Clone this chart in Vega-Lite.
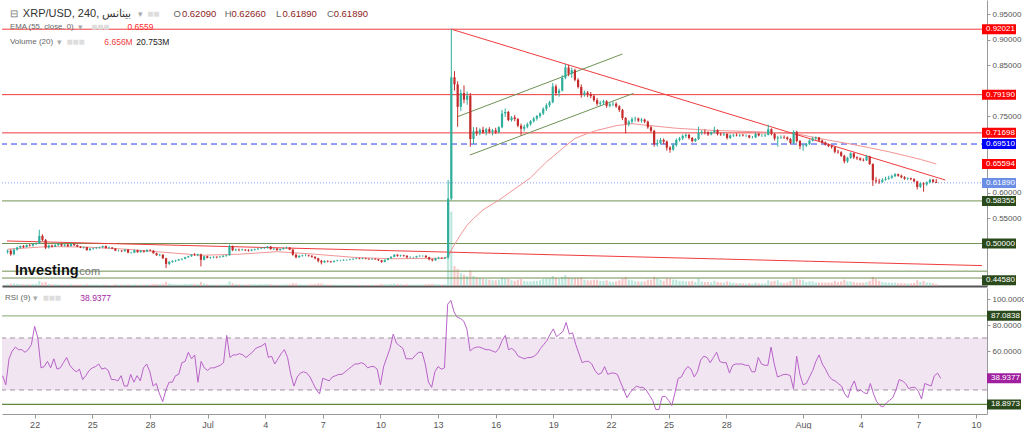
{
"$schema":"https://vega.github.io/schema/vega-lite/v6.json",
"padding":0,
"background":"#ffffff",
"spacing":2,
"config":{"view":{"stroke":null},"font":"Liberation Sans","axis":{"grid":false,"title":null}},
"datasets":{
"c":[
{"t":"2023-06-20T08:00Z","o":0.484,"h":0.488,"l":0.480,"c":0.486,"v":6,"r":41},
{"t":"2023-06-20T12:00Z","o":0.486,"h":0.489,"l":0.476,"c":0.479,"v":8,"r":34},
{"t":"2023-06-20T16:00Z","o":0.479,"h":0.490,"l":0.477,"c":0.488,"v":9,"r":54},
{"t":"2023-06-20T20:00Z","o":0.488,"h":0.494,"l":0.486,"c":0.492,"v":8,"r":60},
{"t":"2023-06-21T00:00Z","o":0.492,"h":0.496,"l":0.490,"c":0.495,"v":7,"r":63},
{"t":"2023-06-21T04:00Z","o":0.495,"h":0.497,"l":0.491,"c":0.493,"v":6,"r":61},
{"t":"2023-06-21T08:00Z","o":0.493,"h":0.498,"l":0.492,"c":0.497,"v":7,"r":61},
{"t":"2023-06-21T12:00Z","o":0.497,"h":0.499,"l":0.494,"c":0.496,"v":6,"r":59},
{"t":"2023-06-21T16:00Z","o":0.496,"h":0.500,"l":0.494,"c":0.499,"v":7,"r":61},
{"t":"2023-06-21T20:00Z","o":0.499,"h":0.502,"l":0.497,"c":0.500,"v":8,"r":65},
{"t":"2023-06-22T00:00Z","o":0.500,"h":0.527,"l":0.499,"c":0.515,"v":18,"r":79},
{"t":"2023-06-22T04:00Z","o":0.515,"h":0.518,"l":0.505,"c":0.507,"v":12,"r":70},
{"t":"2023-06-22T08:00Z","o":0.507,"h":0.509,"l":0.489,"c":0.492,"v":14,"r":47},
{"t":"2023-06-22T12:00Z","o":0.492,"h":0.498,"l":0.490,"c":0.496,"v":8,"r":48},
{"t":"2023-06-22T16:00Z","o":0.496,"h":0.498,"l":0.492,"c":0.494,"v":6,"r":52},
{"t":"2023-06-22T20:00Z","o":0.494,"h":0.499,"l":0.493,"c":0.497,"v":6,"r":47},
{"t":"2023-06-23T00:00Z","o":0.497,"h":0.500,"l":0.495,"c":0.499,"v":6,"r":54},
{"t":"2023-06-23T04:00Z","o":0.499,"h":0.500,"l":0.494,"c":0.496,"v":5,"r":46},
{"t":"2023-06-23T08:00Z","o":0.496,"h":0.499,"l":0.494,"c":0.498,"v":5,"r":47},
{"t":"2023-06-23T12:00Z","o":0.498,"h":0.499,"l":0.493,"c":0.495,"v":5,"r":51},
{"t":"2023-06-23T16:00Z","o":0.495,"h":0.502,"l":0.494,"c":0.499,"v":6,"r":55},
{"t":"2023-06-23T20:00Z","o":0.499,"h":0.500,"l":0.495,"c":0.497,"v":5,"r":49},
{"t":"2023-06-24T00:00Z","o":0.497,"h":0.498,"l":0.493,"c":0.494,"v":5,"r":46},
{"t":"2023-06-24T04:00Z","o":0.494,"h":0.495,"l":0.491,"c":0.492,"v":5,"r":44},
{"t":"2023-06-24T08:00Z","o":0.492,"h":0.494,"l":0.490,"c":0.493,"v":5,"r":46},
{"t":"2023-06-24T12:00Z","o":0.493,"h":0.493,"l":0.486,"c":0.487,"v":6,"r":38},
{"t":"2023-06-24T16:00Z","o":0.487,"h":0.491,"l":0.486,"c":0.490,"v":5,"r":41},
{"t":"2023-06-24T20:00Z","o":0.490,"h":0.492,"l":0.488,"c":0.491,"v":5,"r":45},
{"t":"2023-06-25T00:00Z","o":0.491,"h":0.493,"l":0.489,"c":0.492,"v":5,"r":47},
{"t":"2023-06-25T04:00Z","o":0.492,"h":0.494,"l":0.490,"c":0.493,"v":4,"r":48},
{"t":"2023-06-25T08:00Z","o":0.493,"h":0.496,"l":0.491,"c":0.495,"v":5,"r":50},
{"t":"2023-06-25T12:00Z","o":0.495,"h":0.496,"l":0.490,"c":0.491,"v":5,"r":46},
{"t":"2023-06-25T16:00Z","o":0.491,"h":0.494,"l":0.490,"c":0.492,"v":4,"r":47},
{"t":"2023-06-25T20:00Z","o":0.492,"h":0.493,"l":0.489,"c":0.490,"v":4,"r":45},
{"t":"2023-06-26T00:00Z","o":0.490,"h":0.491,"l":0.485,"c":0.486,"v":6,"r":38},
{"t":"2023-06-26T04:00Z","o":0.486,"h":0.488,"l":0.484,"c":0.486,"v":5,"r":38},
{"t":"2023-06-26T08:00Z","o":0.486,"h":0.487,"l":0.483,"c":0.485,"v":5,"r":37},
{"t":"2023-06-26T12:00Z","o":0.485,"h":0.489,"l":0.484,"c":0.488,"v":5,"r":41},
{"t":"2023-06-26T16:00Z","o":0.488,"h":0.489,"l":0.481,"c":0.482,"v":6,"r":33},
{"t":"2023-06-26T20:00Z","o":0.482,"h":0.484,"l":0.480,"c":0.482,"v":5,"r":33},
{"t":"2023-06-27T00:00Z","o":0.482,"h":0.488,"l":0.481,"c":0.487,"v":6,"r":42},
{"t":"2023-06-27T04:00Z","o":0.487,"h":0.488,"l":0.482,"c":0.483,"v":5,"r":36},
{"t":"2023-06-27T08:00Z","o":0.483,"h":0.487,"l":0.482,"c":0.486,"v":5,"r":41},
{"t":"2023-06-27T12:00Z","o":0.486,"h":0.487,"l":0.482,"c":0.484,"v":5,"r":37},
{"t":"2023-06-27T16:00Z","o":0.484,"h":0.489,"l":0.483,"c":0.487,"v":6,"r":47},
{"t":"2023-06-27T20:00Z","o":0.487,"h":0.489,"l":0.485,"c":0.486,"v":5,"r":50},
{"t":"2023-06-28T00:00Z","o":0.486,"h":0.487,"l":0.480,"c":0.481,"v":7,"r":44},
{"t":"2023-06-28T04:00Z","o":0.481,"h":0.482,"l":0.476,"c":0.477,"v":7,"r":33},
{"t":"2023-06-28T08:00Z","o":0.477,"h":0.480,"l":0.475,"c":0.478,"v":6,"r":35},
{"t":"2023-06-28T12:00Z","o":0.478,"h":0.479,"l":0.470,"c":0.471,"v":8,"r":27},
{"t":"2023-06-28T16:00Z","o":0.471,"h":0.472,"l":0.452,"c":0.460,"v":15,"r":21},
{"t":"2023-06-28T20:00Z","o":0.460,"h":0.466,"l":0.458,"c":0.464,"v":9,"r":30},
{"t":"2023-06-29T00:00Z","o":0.464,"h":0.467,"l":0.462,"c":0.466,"v":7,"r":36},
{"t":"2023-06-29T04:00Z","o":0.466,"h":0.468,"l":0.464,"c":0.467,"v":6,"r":36},
{"t":"2023-06-29T08:00Z","o":0.467,"h":0.470,"l":0.466,"c":0.469,"v":6,"r":41},
{"t":"2023-06-29T12:00Z","o":0.469,"h":0.471,"l":0.467,"c":0.470,"v":6,"r":42},
{"t":"2023-06-29T16:00Z","o":0.470,"h":0.474,"l":0.469,"c":0.473,"v":7,"r":51},
{"t":"2023-06-29T20:00Z","o":0.473,"h":0.476,"l":0.472,"c":0.475,"v":7,"r":52},
{"t":"2023-06-30T00:00Z","o":0.475,"h":0.479,"l":0.474,"c":0.478,"v":8,"r":59},
{"t":"2023-06-30T04:00Z","o":0.478,"h":0.481,"l":0.476,"c":0.477,"v":8,"r":54},
{"t":"2023-06-30T08:00Z","o":0.477,"h":0.480,"l":0.475,"c":0.479,"v":7,"r":57},
{"t":"2023-06-30T12:00Z","o":0.479,"h":0.480,"l":0.455,"c":0.468,"v":14,"r":36},
{"t":"2023-06-30T16:00Z","o":0.468,"h":0.476,"l":0.467,"c":0.475,"v":9,"r":52},
{"t":"2023-06-30T20:00Z","o":0.475,"h":0.476,"l":0.471,"c":0.472,"v":6,"r":47},
{"t":"2023-07-01T00:00Z","o":0.472,"h":0.474,"l":0.470,"c":0.473,"v":5,"r":45},
{"t":"2023-07-01T04:00Z","o":0.473,"h":0.475,"l":0.471,"c":0.474,"v":5,"r":47},
{"t":"2023-07-01T08:00Z","o":0.474,"h":0.475,"l":0.471,"c":0.473,"v":5,"r":47},
{"t":"2023-07-01T12:00Z","o":0.473,"h":0.476,"l":0.472,"c":0.474,"v":5,"r":48},
{"t":"2023-07-01T16:00Z","o":0.474,"h":0.477,"l":0.473,"c":0.476,"v":5,"r":49},
{"t":"2023-07-01T20:00Z","o":0.476,"h":0.478,"l":0.474,"c":0.477,"v":6,"r":51},
{"t":"2023-07-02T00:00Z","o":0.477,"h":0.498,"l":0.476,"c":0.495,"v":16,"r":72},
{"t":"2023-07-02T04:00Z","o":0.495,"h":0.496,"l":0.485,"c":0.487,"v":10,"r":55},
{"t":"2023-07-02T08:00Z","o":0.487,"h":0.490,"l":0.485,"c":0.488,"v":7,"r":57},
{"t":"2023-07-02T12:00Z","o":0.488,"h":0.490,"l":0.485,"c":0.487,"v":6,"r":57},
{"t":"2023-07-02T16:00Z","o":0.487,"h":0.490,"l":0.486,"c":0.488,"v":6,"r":58},
{"t":"2023-07-02T20:00Z","o":0.488,"h":0.489,"l":0.485,"c":0.487,"v":5,"r":57},
{"t":"2023-07-03T00:00Z","o":0.487,"h":0.489,"l":0.484,"c":0.486,"v":6,"r":55},
{"t":"2023-07-03T04:00Z","o":0.486,"h":0.489,"l":0.485,"c":0.488,"v":6,"r":57},
{"t":"2023-07-03T08:00Z","o":0.488,"h":0.490,"l":0.486,"c":0.489,"v":6,"r":59},
{"t":"2023-07-03T12:00Z","o":0.489,"h":0.491,"l":0.487,"c":0.490,"v":6,"r":62},
{"t":"2023-07-03T16:00Z","o":0.490,"h":0.493,"l":0.489,"c":0.491,"v":7,"r":63},
{"t":"2023-07-03T20:00Z","o":0.491,"h":0.493,"l":0.489,"c":0.492,"v":6,"r":64},
{"t":"2023-07-04T00:00Z","o":0.492,"h":0.495,"l":0.490,"c":0.494,"v":7,"r":66},
{"t":"2023-07-04T04:00Z","o":0.494,"h":0.495,"l":0.488,"c":0.489,"v":6,"r":55},
{"t":"2023-07-04T08:00Z","o":0.489,"h":0.491,"l":0.487,"c":0.490,"v":5,"r":56},
{"t":"2023-07-04T12:00Z","o":0.490,"h":0.491,"l":0.486,"c":0.487,"v":5,"r":50},
{"t":"2023-07-04T16:00Z","o":0.487,"h":0.490,"l":0.486,"c":0.489,"v":5,"r":54},
{"t":"2023-07-04T20:00Z","o":0.489,"h":0.492,"l":0.488,"c":0.491,"v":5,"r":58},
{"t":"2023-07-05T00:00Z","o":0.491,"h":0.494,"l":0.490,"c":0.492,"v":6,"r":61},
{"t":"2023-07-05T04:00Z","o":0.492,"h":0.493,"l":0.487,"c":0.488,"v":6,"r":55},
{"t":"2023-07-05T08:00Z","o":0.488,"h":0.489,"l":0.476,"c":0.478,"v":10,"r":42},
{"t":"2023-07-05T12:00Z","o":0.478,"h":0.480,"l":0.471,"c":0.473,"v":9,"r":33},
{"t":"2023-07-05T16:00Z","o":0.473,"h":0.477,"l":0.472,"c":0.476,"v":6,"r":40},
{"t":"2023-07-05T20:00Z","o":0.476,"h":0.478,"l":0.474,"c":0.477,"v":5,"r":43},
{"t":"2023-07-06T00:00Z","o":0.477,"h":0.479,"l":0.475,"c":0.477,"v":5,"r":44},
{"t":"2023-07-06T04:00Z","o":0.477,"h":0.478,"l":0.474,"c":0.476,"v":5,"r":43},
{"t":"2023-07-06T08:00Z","o":0.476,"h":0.477,"l":0.472,"c":0.474,"v":6,"r":40},
{"t":"2023-07-06T12:00Z","o":0.474,"h":0.475,"l":0.469,"c":0.471,"v":7,"r":35},
{"t":"2023-07-06T16:00Z","o":0.471,"h":0.472,"l":0.463,"c":0.466,"v":9,"r":30},
{"t":"2023-07-06T20:00Z","o":0.466,"h":0.468,"l":0.459,"c":0.463,"v":9,"r":27},
{"t":"2023-07-07T00:00Z","o":0.463,"h":0.467,"l":0.462,"c":0.466,"v":6,"r":39},
{"t":"2023-07-07T04:00Z","o":0.466,"h":0.467,"l":0.463,"c":0.465,"v":5,"r":38},
{"t":"2023-07-07T08:00Z","o":0.465,"h":0.466,"l":0.462,"c":0.464,"v":5,"r":37},
{"t":"2023-07-07T12:00Z","o":0.464,"h":0.467,"l":0.463,"c":0.466,"v":5,"r":40},
{"t":"2023-07-07T16:00Z","o":0.466,"h":0.468,"l":0.465,"c":0.467,"v":4,"r":41},
{"t":"2023-07-07T20:00Z","o":0.467,"h":0.468,"l":0.465,"c":0.467,"v":4,"r":42},
{"t":"2023-07-08T00:00Z","o":0.467,"h":0.469,"l":0.466,"c":0.468,"v":4,"r":42},
{"t":"2023-07-08T04:00Z","o":0.468,"h":0.469,"l":0.466,"c":0.468,"v":4,"r":44},
{"t":"2023-07-08T08:00Z","o":0.468,"h":0.470,"l":0.467,"c":0.469,"v":4,"r":46},
{"t":"2023-07-08T12:00Z","o":0.469,"h":0.471,"l":0.468,"c":0.470,"v":4,"r":48},
{"t":"2023-07-08T16:00Z","o":0.470,"h":0.472,"l":0.469,"c":0.471,"v":4,"r":50},
{"t":"2023-07-08T20:00Z","o":0.471,"h":0.472,"l":0.469,"c":0.470,"v":4,"r":50},
{"t":"2023-07-09T00:00Z","o":0.470,"h":0.472,"l":0.469,"c":0.471,"v":4,"r":51},
{"t":"2023-07-09T04:00Z","o":0.471,"h":0.472,"l":0.469,"c":0.470,"v":4,"r":50},
{"t":"2023-07-09T08:00Z","o":0.470,"h":0.471,"l":0.468,"c":0.469,"v":4,"r":47},
{"t":"2023-07-09T12:00Z","o":0.469,"h":0.471,"l":0.468,"c":0.470,"v":4,"r":48},
{"t":"2023-07-09T16:00Z","o":0.470,"h":0.471,"l":0.468,"c":0.469,"v":4,"r":48},
{"t":"2023-07-09T20:00Z","o":0.469,"h":0.470,"l":0.466,"c":0.467,"v":5,"r":46},
{"t":"2023-07-10T00:00Z","o":0.467,"h":0.468,"l":0.462,"c":0.464,"v":7,"r":34},
{"t":"2023-07-10T04:00Z","o":0.464,"h":0.469,"l":0.463,"c":0.468,"v":6,"r":48},
{"t":"2023-07-10T08:00Z","o":0.468,"h":0.472,"l":0.467,"c":0.471,"v":6,"r":55},
{"t":"2023-07-10T12:00Z","o":0.471,"h":0.475,"l":0.470,"c":0.474,"v":7,"r":62},
{"t":"2023-07-10T16:00Z","o":0.474,"h":0.479,"l":0.473,"c":0.478,"v":9,"r":73},
{"t":"2023-07-10T20:00Z","o":0.478,"h":0.479,"l":0.474,"c":0.476,"v":7,"r":66},
{"t":"2023-07-11T00:00Z","o":0.476,"h":0.478,"l":0.474,"c":0.477,"v":6,"r":64},
{"t":"2023-07-11T04:00Z","o":0.477,"h":0.478,"l":0.474,"c":0.476,"v":5,"r":62},
{"t":"2023-07-11T08:00Z","o":0.476,"h":0.477,"l":0.471,"c":0.473,"v":6,"r":54},
{"t":"2023-07-11T12:00Z","o":0.473,"h":0.475,"l":0.471,"c":0.473,"v":5,"r":54},
{"t":"2023-07-11T16:00Z","o":0.473,"h":0.474,"l":0.471,"c":0.473,"v":5,"r":54},
{"t":"2023-07-11T20:00Z","o":0.473,"h":0.476,"l":0.472,"c":0.475,"v":5,"r":57},
{"t":"2023-07-12T00:00Z","o":0.475,"h":0.477,"l":0.474,"c":0.476,"v":5,"r":59},
{"t":"2023-07-12T04:00Z","o":0.476,"h":0.477,"l":0.474,"c":0.476,"v":5,"r":59},
{"t":"2023-07-12T08:00Z","o":0.476,"h":0.477,"l":0.472,"c":0.473,"v":6,"r":50},
{"t":"2023-07-12T12:00Z","o":0.473,"h":0.474,"l":0.467,"c":0.469,"v":7,"r":36},
{"t":"2023-07-12T16:00Z","o":0.469,"h":0.470,"l":0.465,"c":0.467,"v":7,"r":32},
{"t":"2023-07-12T20:00Z","o":0.467,"h":0.472,"l":0.466,"c":0.471,"v":6,"r":44},
{"t":"2023-07-13T00:00Z","o":0.471,"h":0.474,"l":0.469,"c":0.472,"v":6,"r":48},
{"t":"2023-07-13T04:00Z","o":0.472,"h":0.473,"l":0.470,"c":0.471,"v":5,"r":46},
{"t":"2023-07-13T08:00Z","o":0.471,"h":0.474,"l":0.470,"c":0.473,"v":6,"r":47},
{"t":"2023-07-13T12:00Z","o":0.473,"h":0.625,"l":0.470,"c":0.588,"v":290,"r":96},
{"t":"2023-07-13T16:00Z","o":0.588,"h":0.92021,"l":0.585,"c":0.826,"v":260,"r":99},
{"t":"2023-07-13T20:00Z","o":0.826,"h":0.838,"l":0.800,"c":0.812,"v":70,"r":90},
{"t":"2023-07-14T00:00Z","o":0.812,"h":0.818,"l":0.729,"c":0.768,"v":60,"r":86},
{"t":"2023-07-14T04:00Z","o":0.768,"h":0.802,"l":0.760,"c":0.795,"v":45,"r":85},
{"t":"2023-07-14T08:00Z","o":0.795,"h":0.810,"l":0.775,"c":0.782,"v":40,"r":83},
{"t":"2023-07-14T12:00Z","o":0.782,"h":0.798,"l":0.772,"c":0.790,"v":35,"r":77},
{"t":"2023-07-14T16:00Z","o":0.790,"h":0.795,"l":0.690,"c":0.705,"v":55,"r":60},
{"t":"2023-07-14T20:00Z","o":0.705,"h":0.728,"l":0.695,"c":0.720,"v":35,"r":62},
{"t":"2023-07-15T00:00Z","o":0.720,"h":0.728,"l":0.711,"c":0.716,"v":30,"r":63},
{"t":"2023-07-15T04:00Z","o":0.716,"h":0.726,"l":0.712,"c":0.723,"v":28,"r":63},
{"t":"2023-07-15T08:00Z","o":0.723,"h":0.729,"l":0.715,"c":0.718,"v":25,"r":62},
{"t":"2023-07-15T12:00Z","o":0.718,"h":0.727,"l":0.712,"c":0.724,"v":24,"r":61},
{"t":"2023-07-15T16:00Z","o":0.724,"h":0.728,"l":0.716,"c":0.719,"v":22,"r":61},
{"t":"2023-07-15T20:00Z","o":0.719,"h":0.725,"l":0.712,"c":0.722,"v":20,"r":60},
{"t":"2023-07-16T00:00Z","o":0.722,"h":0.727,"l":0.715,"c":0.718,"v":20,"r":59},
{"t":"2023-07-16T04:00Z","o":0.718,"h":0.730,"l":0.716,"c":0.728,"v":22,"r":62},
{"t":"2023-07-16T08:00Z","o":0.728,"h":0.762,"l":0.726,"c":0.755,"v":30,"r":68},
{"t":"2023-07-16T12:00Z","o":0.755,"h":0.765,"l":0.748,"c":0.758,"v":28,"r":72},
{"t":"2023-07-16T16:00Z","o":0.758,"h":0.760,"l":0.740,"c":0.742,"v":26,"r":61},
{"t":"2023-07-16T20:00Z","o":0.742,"h":0.750,"l":0.739,"c":0.747,"v":20,"r":62},
{"t":"2023-07-17T00:00Z","o":0.747,"h":0.752,"l":0.740,"c":0.744,"v":18,"r":60},
{"t":"2023-07-17T04:00Z","o":0.744,"h":0.746,"l":0.728,"c":0.731,"v":22,"r":56},
{"t":"2023-07-17T08:00Z","o":0.731,"h":0.735,"l":0.712,"c":0.725,"v":24,"r":55},
{"t":"2023-07-17T12:00Z","o":0.725,"h":0.733,"l":0.720,"c":0.729,"v":18,"r":54},
{"t":"2023-07-17T16:00Z","o":0.729,"h":0.737,"l":0.726,"c":0.734,"v":16,"r":55},
{"t":"2023-07-17T20:00Z","o":0.734,"h":0.742,"l":0.731,"c":0.740,"v":16,"r":55},
{"t":"2023-07-18T00:00Z","o":0.740,"h":0.748,"l":0.737,"c":0.745,"v":18,"r":56},
{"t":"2023-07-18T04:00Z","o":0.745,"h":0.752,"l":0.741,"c":0.750,"v":18,"r":58},
{"t":"2023-07-18T08:00Z","o":0.750,"h":0.757,"l":0.746,"c":0.755,"v":20,"r":62},
{"t":"2023-07-18T12:00Z","o":0.755,"h":0.767,"l":0.752,"c":0.764,"v":24,"r":65},
{"t":"2023-07-18T16:00Z","o":0.764,"h":0.775,"l":0.760,"c":0.771,"v":26,"r":68},
{"t":"2023-07-18T20:00Z","o":0.771,"h":0.780,"l":0.767,"c":0.777,"v":26,"r":73},
{"t":"2023-07-19T00:00Z","o":0.777,"h":0.815,"l":0.775,"c":0.808,"v":35,"r":77},
{"t":"2023-07-19T04:00Z","o":0.808,"h":0.812,"l":0.790,"c":0.795,"v":28,"r":71},
{"t":"2023-07-19T08:00Z","o":0.795,"h":0.804,"l":0.788,"c":0.800,"v":25,"r":73},
{"t":"2023-07-19T12:00Z","o":0.800,"h":0.830,"l":0.798,"c":0.825,"v":32,"r":75},
{"t":"2023-07-19T16:00Z","o":0.825,"h":0.852,"l":0.822,"c":0.845,"v":38,"r":82},
{"t":"2023-07-19T20:00Z","o":0.845,"h":0.850,"l":0.828,"c":0.833,"v":30,"r":73},
{"t":"2023-07-20T00:00Z","o":0.833,"h":0.845,"l":0.825,"c":0.840,"v":28,"r":74},
{"t":"2023-07-20T04:00Z","o":0.840,"h":0.843,"l":0.818,"c":0.821,"v":28,"r":65},
{"t":"2023-07-20T08:00Z","o":0.821,"h":0.824,"l":0.804,"c":0.807,"v":28,"r":58},
{"t":"2023-07-20T12:00Z","o":0.807,"h":0.812,"l":0.786,"c":0.792,"v":30,"r":51},
{"t":"2023-07-20T16:00Z","o":0.792,"h":0.800,"l":0.788,"c":0.796,"v":22,"r":52},
{"t":"2023-07-20T20:00Z","o":0.796,"h":0.799,"l":0.787,"c":0.793,"v":20,"r":52},
{"t":"2023-07-21T00:00Z","o":0.793,"h":0.797,"l":0.785,"c":0.789,"v":20,"r":50},
{"t":"2023-07-21T04:00Z","o":0.789,"h":0.792,"l":0.778,"c":0.781,"v":22,"r":45},
{"t":"2023-07-21T08:00Z","o":0.781,"h":0.785,"l":0.770,"c":0.774,"v":22,"r":42},
{"t":"2023-07-21T12:00Z","o":0.774,"h":0.780,"l":0.770,"c":0.776,"v":18,"r":43},
{"t":"2023-07-21T16:00Z","o":0.776,"h":0.782,"l":0.772,"c":0.779,"v":18,"r":48},
{"t":"2023-07-21T20:00Z","o":0.779,"h":0.781,"l":0.766,"c":0.770,"v":20,"r":42},
{"t":"2023-07-22T00:00Z","o":0.770,"h":0.777,"l":0.767,"c":0.773,"v":16,"r":43},
{"t":"2023-07-22T04:00Z","o":0.773,"h":0.778,"l":0.769,"c":0.774,"v":14,"r":43},
{"t":"2023-07-22T08:00Z","o":0.774,"h":0.777,"l":0.766,"c":0.769,"v":16,"r":42},
{"t":"2023-07-22T12:00Z","o":0.769,"h":0.771,"l":0.758,"c":0.762,"v":20,"r":36},
{"t":"2023-07-22T16:00Z","o":0.762,"h":0.764,"l":0.742,"c":0.746,"v":26,"r":30},
{"t":"2023-07-22T20:00Z","o":0.746,"h":0.748,"l":0.716,"c":0.734,"v":32,"r":24},
{"t":"2023-07-23T00:00Z","o":0.734,"h":0.742,"l":0.730,"c":0.739,"v":22,"r":28},
{"t":"2023-07-23T04:00Z","o":0.739,"h":0.748,"l":0.735,"c":0.744,"v":20,"r":31},
{"t":"2023-07-23T08:00Z","o":0.744,"h":0.749,"l":0.739,"c":0.745,"v":16,"r":33},
{"t":"2023-07-23T12:00Z","o":0.745,"h":0.747,"l":0.738,"c":0.741,"v":16,"r":32},
{"t":"2023-07-23T16:00Z","o":0.741,"h":0.746,"l":0.737,"c":0.743,"v":16,"r":32},
{"t":"2023-07-23T20:00Z","o":0.743,"h":0.745,"l":0.736,"c":0.739,"v":16,"r":30},
{"t":"2023-07-24T00:00Z","o":0.739,"h":0.741,"l":0.725,"c":0.728,"v":22,"r":26},
{"t":"2023-07-24T04:00Z","o":0.728,"h":0.731,"l":0.718,"c":0.721,"v":22,"r":22},
{"t":"2023-07-24T08:00Z","o":0.721,"h":0.723,"l":0.690,"c":0.695,"v":32,"r":15},
{"t":"2023-07-24T12:00Z","o":0.695,"h":0.704,"l":0.690,"c":0.697,"v":26,"r":15},
{"t":"2023-07-24T16:00Z","o":0.697,"h":0.707,"l":0.694,"c":0.703,"v":22,"r":25},
{"t":"2023-07-24T20:00Z","o":0.703,"h":0.706,"l":0.695,"c":0.700,"v":18,"r":25},
{"t":"2023-07-25T00:00Z","o":0.700,"h":0.702,"l":0.682,"c":0.688,"v":26,"r":22},
{"t":"2023-07-25T04:00Z","o":0.688,"h":0.691,"l":0.678,"c":0.684,"v":26,"r":18},
{"t":"2023-07-25T08:00Z","o":0.684,"h":0.696,"l":0.682,"c":0.693,"v":22,"r":28},
{"t":"2023-07-25T12:00Z","o":0.693,"h":0.706,"l":0.690,"c":0.703,"v":22,"r":39},
{"t":"2023-07-25T16:00Z","o":0.703,"h":0.709,"l":0.700,"c":0.706,"v":18,"r":40},
{"t":"2023-07-25T20:00Z","o":0.706,"h":0.714,"l":0.703,"c":0.711,"v":18,"r":45},
{"t":"2023-07-26T00:00Z","o":0.711,"h":0.716,"l":0.707,"c":0.713,"v":16,"r":48},
{"t":"2023-07-26T04:00Z","o":0.713,"h":0.715,"l":0.704,"c":0.707,"v":16,"r":46},
{"t":"2023-07-26T08:00Z","o":0.707,"h":0.709,"l":0.698,"c":0.701,"v":18,"r":40},
{"t":"2023-07-26T12:00Z","o":0.701,"h":0.707,"l":0.699,"c":0.705,"v":14,"r":44},
{"t":"2023-07-26T16:00Z","o":0.705,"h":0.729,"l":0.703,"c":0.717,"v":26,"r":53},
{"t":"2023-07-26T20:00Z","o":0.717,"h":0.722,"l":0.713,"c":0.719,"v":16,"r":56},
{"t":"2023-07-27T00:00Z","o":0.719,"h":0.724,"l":0.714,"c":0.718,"v":14,"r":55},
{"t":"2023-07-27T04:00Z","o":0.718,"h":0.720,"l":0.711,"c":0.714,"v":14,"r":51},
{"t":"2023-07-27T08:00Z","o":0.714,"h":0.720,"l":0.712,"c":0.718,"v":13,"r":55},
{"t":"2023-07-27T12:00Z","o":0.718,"h":0.729,"l":0.716,"c":0.722,"v":18,"r":59},
{"t":"2023-07-27T16:00Z","o":0.722,"h":0.724,"l":0.712,"c":0.715,"v":14,"r":52},
{"t":"2023-07-27T20:00Z","o":0.715,"h":0.718,"l":0.711,"c":0.714,"v":12,"r":51},
{"t":"2023-07-28T00:00Z","o":0.714,"h":0.718,"l":0.711,"c":0.715,"v":12,"r":51},
{"t":"2023-07-28T04:00Z","o":0.715,"h":0.716,"l":0.704,"c":0.707,"v":16,"r":43},
{"t":"2023-07-28T08:00Z","o":0.707,"h":0.714,"l":0.705,"c":0.712,"v":13,"r":49},
{"t":"2023-07-28T12:00Z","o":0.712,"h":0.715,"l":0.709,"c":0.713,"v":11,"r":50},
{"t":"2023-07-28T16:00Z","o":0.713,"h":0.716,"l":0.710,"c":0.712,"v":10,"r":50},
{"t":"2023-07-28T20:00Z","o":0.712,"h":0.715,"l":0.709,"c":0.713,"v":10,"r":50},
{"t":"2023-07-29T00:00Z","o":0.713,"h":0.715,"l":0.710,"c":0.712,"v":9,"r":49},
{"t":"2023-07-29T04:00Z","o":0.712,"h":0.714,"l":0.709,"c":0.712,"v":8,"r":49},
{"t":"2023-07-29T08:00Z","o":0.712,"h":0.713,"l":0.706,"c":0.708,"v":10,"r":44},
{"t":"2023-07-29T12:00Z","o":0.708,"h":0.711,"l":0.706,"c":0.708,"v":8,"r":44},
{"t":"2023-07-29T16:00Z","o":0.708,"h":0.718,"l":0.707,"c":0.715,"v":12,"r":55},
{"t":"2023-07-29T20:00Z","o":0.715,"h":0.717,"l":0.710,"c":0.712,"v":9,"r":50},
{"t":"2023-07-30T00:00Z","o":0.712,"h":0.715,"l":0.709,"c":0.712,"v":9,"r":49},
{"t":"2023-07-30T04:00Z","o":0.712,"h":0.716,"l":0.709,"c":0.713,"v":9,"r":49},
{"t":"2023-07-30T08:00Z","o":0.713,"h":0.733,"l":0.712,"c":0.724,"v":20,"r":63},
{"t":"2023-07-30T12:00Z","o":0.724,"h":0.726,"l":0.712,"c":0.715,"v":16,"r":50},
{"t":"2023-07-30T16:00Z","o":0.715,"h":0.717,"l":0.702,"c":0.706,"v":18,"r":40},
{"t":"2023-07-30T20:00Z","o":0.706,"h":0.711,"l":0.690,"c":0.708,"v":20,"r":41},
{"t":"2023-07-31T00:00Z","o":0.708,"h":0.712,"l":0.705,"c":0.709,"v":12,"r":42},
{"t":"2023-07-31T04:00Z","o":0.709,"h":0.712,"l":0.705,"c":0.708,"v":10,"r":42},
{"t":"2023-07-31T08:00Z","o":0.708,"h":0.710,"l":0.702,"c":0.705,"v":12,"r":41},
{"t":"2023-07-31T12:00Z","o":0.705,"h":0.707,"l":0.694,"c":0.697,"v":18,"r":31},
{"t":"2023-07-31T16:00Z","o":0.697,"h":0.722,"l":0.695,"c":0.719,"v":26,"r":56},
{"t":"2023-07-31T20:00Z","o":0.719,"h":0.721,"l":0.698,"c":0.701,"v":24,"r":42},
{"t":"2023-08-01T00:00Z","o":0.701,"h":0.703,"l":0.685,"c":0.691,"v":22,"r":34},
{"t":"2023-08-01T04:00Z","o":0.691,"h":0.695,"l":0.682,"c":0.692,"v":20,"r":35},
{"t":"2023-08-01T08:00Z","o":0.692,"h":0.697,"l":0.689,"c":0.695,"v":14,"r":40},
{"t":"2023-08-01T12:00Z","o":0.695,"h":0.704,"l":0.693,"c":0.702,"v":16,"r":45},
{"t":"2023-08-01T16:00Z","o":0.702,"h":0.709,"l":0.700,"c":0.706,"v":16,"r":52},
{"t":"2023-08-01T20:00Z","o":0.706,"h":0.710,"l":0.703,"c":0.708,"v":12,"r":57},
{"t":"2023-08-02T00:00Z","o":0.708,"h":0.709,"l":0.700,"c":0.702,"v":12,"r":50},
{"t":"2023-08-02T04:00Z","o":0.702,"h":0.704,"l":0.696,"c":0.698,"v":12,"r":46},
{"t":"2023-08-02T08:00Z","o":0.698,"h":0.700,"l":0.692,"c":0.694,"v":12,"r":41},
{"t":"2023-08-02T12:00Z","o":0.694,"h":0.696,"l":0.689,"c":0.691,"v":12,"r":38},
{"t":"2023-08-02T16:00Z","o":0.691,"h":0.693,"l":0.686,"c":0.689,"v":12,"r":37},
{"t":"2023-08-02T20:00Z","o":0.689,"h":0.690,"l":0.677,"c":0.680,"v":18,"r":35},
{"t":"2023-08-03T00:00Z","o":0.680,"h":0.684,"l":0.676,"c":0.679,"v":14,"r":33},
{"t":"2023-08-03T04:00Z","o":0.679,"h":0.681,"l":0.670,"c":0.672,"v":16,"r":27},
{"t":"2023-08-03T08:00Z","o":0.672,"h":0.674,"l":0.657,"c":0.661,"v":22,"r":24},
{"t":"2023-08-03T12:00Z","o":0.661,"h":0.670,"l":0.658,"c":0.668,"v":16,"r":32},
{"t":"2023-08-03T16:00Z","o":0.668,"h":0.679,"l":0.666,"c":0.677,"v":16,"r":37},
{"t":"2023-08-03T20:00Z","o":0.677,"h":0.678,"l":0.666,"c":0.669,"v":14,"r":29},
{"t":"2023-08-04T00:00Z","o":0.669,"h":0.671,"l":0.664,"c":0.667,"v":12,"r":30},
{"t":"2023-08-04T04:00Z","o":0.667,"h":0.669,"l":0.662,"c":0.664,"v":12,"r":28},
{"t":"2023-08-04T08:00Z","o":0.664,"h":0.667,"l":0.661,"c":0.663,"v":12,"r":27},
{"t":"2023-08-04T12:00Z","o":0.663,"h":0.674,"l":0.662,"c":0.671,"v":14,"r":35},
{"t":"2023-08-04T16:00Z","o":0.671,"h":0.672,"l":0.654,"c":0.656,"v":18,"r":27},
{"t":"2023-08-04T20:00Z","o":0.656,"h":0.657,"l":0.613,"c":0.624,"v":32,"r":21},
{"t":"2023-08-05T00:00Z","o":0.624,"h":0.630,"l":0.618,"c":0.622,"v":24,"r":18},
{"t":"2023-08-05T04:00Z","o":0.622,"h":0.627,"l":0.617,"c":0.621,"v":18,"r":17},
{"t":"2023-08-05T08:00Z","o":0.621,"h":0.628,"l":0.619,"c":0.625,"v":14,"r":20},
{"t":"2023-08-05T12:00Z","o":0.625,"h":0.631,"l":0.623,"c":0.627,"v":12,"r":22},
{"t":"2023-08-05T16:00Z","o":0.627,"h":0.633,"l":0.625,"c":0.629,"v":12,"r":24},
{"t":"2023-08-05T20:00Z","o":0.629,"h":0.635,"l":0.627,"c":0.632,"v":12,"r":30},
{"t":"2023-08-06T00:00Z","o":0.632,"h":0.638,"l":0.630,"c":0.636,"v":12,"r":38},
{"t":"2023-08-06T04:00Z","o":0.636,"h":0.637,"l":0.631,"c":0.633,"v":10,"r":37},
{"t":"2023-08-06T08:00Z","o":0.633,"h":0.635,"l":0.628,"c":0.630,"v":10,"r":35},
{"t":"2023-08-06T12:00Z","o":0.630,"h":0.632,"l":0.625,"c":0.627,"v":10,"r":31},
{"t":"2023-08-06T16:00Z","o":0.627,"h":0.630,"l":0.624,"c":0.628,"v":9,"r":32},
{"t":"2023-08-06T20:00Z","o":0.628,"h":0.629,"l":0.624,"c":0.626,"v":9,"r":32},
{"t":"2023-08-07T00:00Z","o":0.626,"h":0.628,"l":0.620,"c":0.622,"v":11,"r":29},
{"t":"2023-08-07T04:00Z","o":0.622,"h":0.623,"l":0.606,"c":0.611,"v":20,"r":23},
{"t":"2023-08-07T08:00Z","o":0.611,"h":0.620,"l":0.609,"c":0.618,"v":14,"r":35},
{"t":"2023-08-07T12:00Z","o":0.618,"h":0.620,"l":0.6016,"c":0.616,"v":18,"r":34},
{"t":"2023-08-07T16:00Z","o":0.616,"h":0.622,"l":0.613,"c":0.620,"v":12,"r":33},
{"t":"2023-08-07T20:00Z","o":0.620,"h":0.627,"l":0.618,"c":0.625,"v":12,"r":41},
{"t":"2023-08-08T00:00Z","o":0.625,"h":0.627,"l":0.619,"c":0.6209,"v":10,"r":43},
{"t":"2023-08-08T04:00Z","o":0.6209,"h":0.6266,"l":0.6189,"c":0.6189,"v":6.656,"r":38.9377}
],
"ema":[
{"t":"2023-06-20T08:00Z","e":0.489},{"t":"2023-06-22T12:00Z","e":0.494},{"t":"2023-06-24T12:00Z","e":0.493},{"t":"2023-06-26T12:00Z","e":0.489},{"t":"2023-06-28T12:00Z","e":0.483},{"t":"2023-06-30T12:00Z","e":0.477},{"t":"2023-07-02T12:00Z","e":0.479},{"t":"2023-07-04T12:00Z","e":0.484},{"t":"2023-07-06T12:00Z","e":0.479},{"t":"2023-07-08T12:00Z","e":0.473},{"t":"2023-07-10T12:00Z","e":0.470},{"t":"2023-07-12T12:00Z","e":0.471},{"t":"2023-07-13T08:00Z","e":0.471},{"t":"2023-07-13T12:00Z","e":0.475},{"t":"2023-07-13T16:00Z","e":0.487},{"t":"2023-07-13T20:00Z","e":0.498},{"t":"2023-07-14T04:00Z","e":0.518},{"t":"2023-07-14T12:00Z","e":0.536},{"t":"2023-07-14T20:00Z","e":0.549},{"t":"2023-07-15T08:00Z","e":0.566},{"t":"2023-07-16T04:00Z","e":0.585},{"t":"2023-07-17T00:00Z","e":0.607},{"t":"2023-07-17T20:00Z","e":0.629},{"t":"2023-07-18T16:00Z","e":0.660},{"t":"2023-07-19T12:00Z","e":0.686},{"t":"2023-07-20T04:00Z","e":0.706},{"t":"2023-07-20T20:00Z","e":0.716},{"t":"2023-07-21T08:00Z","e":0.722},{"t":"2023-07-22T08:00Z","e":0.731},{"t":"2023-07-23T04:00Z","e":0.735},{"t":"2023-07-24T04:00Z","e":0.731},{"t":"2023-07-25T12:00Z","e":0.726},{"t":"2023-07-27T08:00Z","e":0.722},{"t":"2023-07-29T20:00Z","e":0.719},{"t":"2023-07-31T20:00Z","e":0.715},{"t":"2023-08-02T04:00Z","e":0.705},{"t":"2023-08-03T20:00Z","e":0.694},{"t":"2023-08-05T16:00Z","e":0.680},{"t":"2023-08-07T08:00Z","e":0.665},{"t":"2023-08-08T04:00Z","e":0.656}
],
"tr":[
{"g":"r","id":1,"t":"2023-07-13T16:10Z","p":0.9202},{"g":"r","id":1,"t":"2023-08-08T15:30Z","p":0.6245},
{"g":"r","id":2,"t":"2023-06-20T07:15Z","p":0.505},{"g":"r","id":2,"t":"2023-08-10T13:45Z","p":0.4567},
{"g":"g","id":3,"t":"2023-07-13T23:40Z","p":0.7486},{"g":"g","id":3,"t":"2023-07-22T15:55Z","p":0.8716},
{"g":"g","id":4,"t":"2023-07-14T15:30Z","p":0.6735},{"g":"g","id":4,"t":"2023-07-23T06:00Z","p":0.7945}
],
"lv":[
{"p":0.92021,"k":"R"},{"p":0.7919,"k":"R"},{"p":0.71698,"k":"R"},{"p":0.6951,"k":"B"},{"p":0.6189,"k":"L"},{"p":0.58355,"k":"G"},{"p":0.5,"k":"G"},{"p":0.4458,"k":"G"},{"p":0.4323,"k":"G"}
],
"lb":[
{"p":0.92021,"k":"R"},{"p":0.7919,"k":"R"},{"p":0.71698,"k":"R"},{"p":0.6951,"k":"B"},{"p":0.65594,"k":"E"},{"p":0.6189,"k":"L"},{"p":0.58355,"k":"G"},{"p":0.5,"k":"G"},{"p":0.4458,"k":"G"}
],
"rl":[
{"p":87.0838,"k":"G"},{"p":38.9377,"k":"P"},{"p":18.8973,"k":"G"}
]
},
"vconcat":[
{
"width":985,"height":286,
"resolve":{"scale":{"y":"independent"}},
"layer":[
{"data":{"name":"c"},"mark":{"type":"bar","width":2.2,"opacity":0.6},
 "encoding":{
  "x":{"field":"t","type":"temporal","scale":{"type":"utc","domain":[{"year":2023,"month":6,"date":20,"hours":7,"minutes":15,"utc":true},{"year":2023,"month":8,"date":10,"hours":13,"minutes":45,"utc":true}]},"axis":{"labels":false,"ticks":false,"domainColor":"#555555","domainWidth":2,"grid":false,"title":null}},
  "y":{"field":"v","type":"quantitative","scale":{"domain":[0,1000],"nice":false},"axis":null},
  "color":{"condition":{"test":"datum.c>=datum.o","value":"#8fd8c8"},"value":"#f3a5a5"}}},
{"data":{"values":[{}]},
 "layer":[
 {"data":{"name":"lv"},"transform":[{"filter":"datum.k=='R'"}],"mark":{"type":"rule","color":"#f23a3a","strokeWidth":1},
  "encoding":{"y":{"field":"p","type":"quantitative","scale":{"domain":[0.4167,0.9775],"nice":false,"zero":false},"axis":{"orient":"right","values":[0.95,0.9,0.85,0.75,0.6,0.55],"format":".5f","labelFontSize":8,"labelColor":"#555555","tickSize":3,"tickColor":"#999999","domainColor":"#999999","labelPadding":2,"grid":false,"title":null}}}},
 {"data":{"name":"lv"},"transform":[{"filter":"datum.k=='G'"}],"mark":{"type":"rule","color":"#6f9154","strokeWidth":1},"encoding":{"y":{"field":"p","type":"quantitative"}}},
 {"data":{"name":"lv"},"transform":[{"filter":"datum.k=='B'"}],"mark":{"type":"rule","color":"#2b3cf0","strokeWidth":1,"strokeDash":[6,4]},"encoding":{"y":{"field":"p","type":"quantitative"}}},
 {"data":{"name":"lv"},"transform":[{"filter":"datum.k=='L'"}],"mark":{"type":"rule","color":"#7d9cf0","strokeWidth":1,"strokeDash":[1,2]},"encoding":{"y":{"field":"p","type":"quantitative"}}},
 {"data":{"name":"ema"},"mark":{"type":"line","color":"#f39595","strokeWidth":1},
  "encoding":{"x":{"field":"t","type":"temporal","scale":{"type":"utc","domain":[{"year":2023,"month":6,"date":20,"hours":7,"minutes":15,"utc":true},{"year":2023,"month":8,"date":10,"hours":13,"minutes":45,"utc":true}]},"axis":{"labels":false,"ticks":false,"domainColor":"#555555","domainWidth":2,"grid":false,"title":null}},"y":{"field":"e","type":"quantitative"}}},
 {"data":{"name":"tr"},"transform":[{"filter":"datum.g=='r'"}],"mark":{"type":"line","color":"#f03c3c","strokeWidth":1},
  "encoding":{"x":{"field":"t","type":"temporal","scale":{"type":"utc","domain":[{"year":2023,"month":6,"date":20,"hours":7,"minutes":15,"utc":true},{"year":2023,"month":8,"date":10,"hours":13,"minutes":45,"utc":true}]},"axis":{"labels":false,"ticks":false,"domainColor":"#555555","domainWidth":2,"grid":false,"title":null}},"y":{"field":"p","type":"quantitative"},"detail":{"field":"id","type":"nominal"}}},
 {"data":{"name":"tr"},"transform":[{"filter":"datum.g=='g'"}],"mark":{"type":"line","color":"#6f9154","strokeWidth":1},
  "encoding":{"x":{"field":"t","type":"temporal","scale":{"type":"utc","domain":[{"year":2023,"month":6,"date":20,"hours":7,"minutes":15,"utc":true},{"year":2023,"month":8,"date":10,"hours":13,"minutes":45,"utc":true}]},"axis":{"labels":false,"ticks":false,"domainColor":"#555555","domainWidth":2,"grid":false,"title":null}},"y":{"field":"p","type":"quantitative"},"detail":{"field":"id","type":"nominal"}}},
 {"data":{"name":"c"},"mark":{"type":"rule","strokeWidth":1},
  "encoding":{"x":{"field":"t","type":"temporal","scale":{"type":"utc","domain":[{"year":2023,"month":6,"date":20,"hours":7,"minutes":15,"utc":true},{"year":2023,"month":8,"date":10,"hours":13,"minutes":45,"utc":true}]},"axis":{"labels":false,"ticks":false,"domainColor":"#555555","domainWidth":2,"grid":false,"title":null}},"y":{"field":"l","type":"quantitative"},"y2":{"field":"h"},
  "color":{"condition":{"test":"datum.c>=datum.o","value":"#2fae9c"},"value":"#c62b2b"}}},
 {"data":{"name":"c"},"mark":{"type":"bar","width":2.2},
  "encoding":{"x":{"field":"t","type":"temporal","scale":{"type":"utc","domain":[{"year":2023,"month":6,"date":20,"hours":7,"minutes":15,"utc":true},{"year":2023,"month":8,"date":10,"hours":13,"minutes":45,"utc":true}]},"axis":{"labels":false,"ticks":false,"domainColor":"#555555","domainWidth":2,"grid":false,"title":null}},"y":{"field":"o","type":"quantitative"},"y2":{"field":"c"},
  "color":{"condition":{"test":"datum.c>=datum.o","value":"#2fae9c"},"value":"#c62b2b"}}},
 {"data":{"name":"lb"},"transform":[{"filter":"datum.p>0.45"}],"mark":{"type":"rect","x2Offset":34,"yOffset":-5,"y2Offset":5},
  "encoding":{"x":{"datum":{"year":2023,"month":8,"date":10,"hours":13,"minutes":45,"utc":true},"type":"temporal"},"x2":{"datum":{"year":2023,"month":8,"date":10,"hours":13,"minutes":45,"utc":true}},
  "y":{"field":"p","type":"quantitative"},"y2":{"field":"p"},
  "color":{"condition":[{"test":"datum.k=='B'","value":"#0000ff"},{"test":"datum.k=='L'","value":"#6a8ee6"},{"test":"datum.k=='G'","value":"#2b4a1c"}],"value":"#ff0000"}}},
 {"data":{"name":"lb"},"transform":[{"filter":"datum.p>0.45"}],"mark":{"type":"text","align":"left","baseline":"middle","dx":4,"fontSize":8,"color":"#ffffff"},
  "encoding":{"x":{"datum":{"year":2023,"month":8,"date":10,"hours":13,"minutes":45,"utc":true},"type":"temporal"},"y":{"field":"p","type":"quantitative"},"text":{"field":"p","type":"quantitative","format":".5f"}}},
 {"data":{"name":"lb"},"transform":[{"filter":"datum.p<0.45"}],"mark":{"type":"rect","x2Offset":34,"yOffset":4,"y2Offset":14,"color":"#2b4a1c"},
  "encoding":{"x":{"datum":{"year":2023,"month":8,"date":10,"hours":13,"minutes":45,"utc":true},"type":"temporal"},"x2":{"datum":{"year":2023,"month":8,"date":10,"hours":13,"minutes":45,"utc":true}},
  "y":{"field":"p","type":"quantitative"},"y2":{"field":"p"}}},
 {"data":{"name":"lb"},"transform":[{"filter":"datum.p<0.45"}],"mark":{"type":"text","align":"left","baseline":"middle","dx":4,"dy":9,"fontSize":8,"color":"#ffffff"},
  "encoding":{"x":{"datum":{"year":2023,"month":8,"date":10,"hours":13,"minutes":45,"utc":true},"type":"temporal"},"y":{"field":"p","type":"quantitative"},"text":{"field":"p","type":"quantitative","format":".5f"}}},
 {"mark":{"type":"text","text":"⊟","align":"left","baseline":"middle","fontSize":10,"color":"#777777"},"encoding":{"x":{"datum":{"year":2023,"month":6,"date":20,"hours":11,"utc":true},"type":"temporal"},"y":{"datum":0.95,"type":"quantitative"}}},
 {"mark":{"type":"text","text":"XRP/USD, 240, بينانس","align":"left","baseline":"middle","fontSize":11,"color":"#333333"},"encoding":{"x":{"datum":{"year":2023,"month":6,"date":21,"hours":3,"minutes":15,"utc":true},"type":"temporal"},"y":{"datum":0.95,"type":"quantitative"}}},
 {"mark":{"type":"text","text":"▾","align":"left","baseline":"middle","fontSize":9,"color":"#aaaaaa"},"encoding":{"x":{"datum":{"year":2023,"month":6,"date":27,"hours":4,"minutes":10,"utc":true},"type":"temporal"},"y":{"datum":0.95,"type":"quantitative"}}},
 {"mark":{"type":"text","text":"■■","align":"left","baseline":"middle","fontSize":10,"color":"#dddddd"},"encoding":{"x":{"datum":{"year":2023,"month":6,"date":27,"hours":16,"minutes":18,"utc":true},"type":"temporal"},"y":{"datum":0.95,"type":"quantitative"}}},
 {"mark":{"type":"text","text":"O","align":"left","baseline":"middle","fontSize":9.5,"color":"#666666"},"encoding":{"x":{"datum":{"year":2023,"month":6,"date":29,"hours":1,"minutes":30,"utc":true},"type":"temporal"},"y":{"datum":0.95,"type":"quantitative"}}},
 {"mark":{"type":"text","text":"0.62090","align":"left","baseline":"middle","fontSize":9.5,"color":"#8e2323"},"encoding":{"x":{"datum":{"year":2023,"month":6,"date":29,"hours":12,"utc":true},"type":"temporal"},"y":{"datum":0.95,"type":"quantitative"}}},
 {"mark":{"type":"text","text":"H","align":"left","baseline":"middle","fontSize":9.5,"color":"#666666"},"encoding":{"x":{"datum":{"year":2023,"month":7,"date":1,"hours":18,"minutes":6,"utc":true},"type":"temporal"},"y":{"datum":0.95,"type":"quantitative"}}},
 {"mark":{"type":"text","text":"0.62660","align":"left","baseline":"middle","fontSize":9.5,"color":"#8e2323"},"encoding":{"x":{"datum":{"year":2023,"month":7,"date":2,"hours":2,"minutes":30,"utc":true},"type":"temporal"},"y":{"datum":0.95,"type":"quantitative"}}},
 {"mark":{"type":"text","text":"L","align":"left","baseline":"middle","fontSize":9.5,"color":"#666666"},"encoding":{"x":{"datum":{"year":2023,"month":7,"date":4,"hours":10,"minutes":42,"utc":true},"type":"temporal"},"y":{"datum":0.95,"type":"quantitative"}}},
 {"mark":{"type":"text","text":"0.61890","align":"left","baseline":"middle","fontSize":9.5,"color":"#8e2323"},"encoding":{"x":{"datum":{"year":2023,"month":7,"date":4,"hours":18,"minutes":54,"utc":true},"type":"temporal"},"y":{"datum":0.95,"type":"quantitative"}}},
 {"mark":{"type":"text","text":"C","align":"left","baseline":"middle","fontSize":9.5,"color":"#666666"},"encoding":{"x":{"datum":{"year":2023,"month":7,"date":7,"hours":3,"minutes":6,"utc":true},"type":"temporal"},"y":{"datum":0.95,"type":"quantitative"}}},
 {"mark":{"type":"text","text":"0.61890","align":"left","baseline":"middle","fontSize":9.5,"color":"#8e2323"},"encoding":{"x":{"datum":{"year":2023,"month":7,"date":7,"hours":11,"minutes":30,"utc":true},"type":"temporal"},"y":{"datum":0.95,"type":"quantitative"}}},
 {"mark":{"type":"text","text":"EMA (55, close, 0)","align":"left","baseline":"middle","fontSize":7.8,"color":"#666666"},"encoding":{"x":{"datum":{"year":2023,"month":6,"date":20,"hours":11,"utc":true},"type":"temporal"},"y":{"datum":0.9239,"type":"quantitative"}}},
 {"mark":{"type":"text","text":"▾","align":"left","baseline":"middle","fontSize":9,"color":"#aaaaaa"},"encoding":{"x":{"datum":{"year":2023,"month":6,"date":24,"hours":0,"minutes":50,"utc":true},"type":"temporal"},"y":{"datum":0.9239,"type":"quantitative"}}},
 {"mark":{"type":"text","text":"■■■","align":"left","baseline":"middle","fontSize":10,"color":"#dddddd"},"encoding":{"x":{"datum":{"year":2023,"month":6,"date":24,"hours":17,"minutes":30,"utc":true},"type":"temporal"},"y":{"datum":0.9239,"type":"quantitative"}}},
 {"mark":{"type":"text","text":"0.6559","align":"left","baseline":"middle","fontSize":8.5,"color":"#ff2a2a"},"encoding":{"x":{"datum":{"year":2023,"month":6,"date":26,"hours":15,"minutes":18,"utc":true},"type":"temporal"},"y":{"datum":0.9239,"type":"quantitative"}}},
 {"mark":{"type":"text","text":"Volume (20)","align":"left","baseline":"middle","fontSize":8,"color":"#666666"},"encoding":{"x":{"datum":{"year":2023,"month":6,"date":20,"hours":11,"utc":true},"type":"temporal"},"y":{"datum":0.8945,"type":"quantitative"}}},
 {"mark":{"type":"text","text":"▾","align":"left","baseline":"middle","fontSize":9,"color":"#aaaaaa"},"encoding":{"x":{"datum":{"year":2023,"month":6,"date":22,"hours":22,"minutes":36,"utc":true},"type":"temporal"},"y":{"datum":0.8945,"type":"quantitative"}}},
 {"mark":{"type":"text","text":"■■■","align":"left","baseline":"middle","fontSize":10,"color":"#dddddd"},"encoding":{"x":{"datum":{"year":2023,"month":6,"date":23,"hours":10,"minutes":12,"utc":true},"type":"temporal"},"y":{"datum":0.8945,"type":"quantitative"}}},
 {"mark":{"type":"text","text":"6.656M","align":"left","baseline":"middle","fontSize":8.5,"color":"#f04040"},"encoding":{"x":{"datum":{"year":2023,"month":6,"date":25,"hours":10,"minutes":6,"utc":true},"type":"temporal"},"y":{"datum":0.8945,"type":"quantitative"}}},
 {"mark":{"type":"text","text":"20.753M","align":"left","baseline":"middle","fontSize":8.5,"color":"#222222"},"encoding":{"x":{"datum":{"year":2023,"month":6,"date":27,"hours":2,"minutes":30,"utc":true},"type":"temporal"},"y":{"datum":0.8945,"type":"quantitative"}}},
 {"mark":{"type":"text","text":"Investing","align":"left","baseline":"middle","fontSize":14.5,"fontWeight":"bold","color":"#111111"},"encoding":{"x":{"datum":{"year":2023,"month":6,"date":20,"hours":17,"minutes":18,"utc":true},"type":"temporal"},"y":{"datum":0.446,"type":"quantitative"}}},
 {"mark":{"type":"text","text":".com","align":"left","baseline":"middle","fontSize":11,"color":"#777777"},"encoding":{"x":{"datum":{"year":2023,"month":6,"date":23,"hours":22,"minutes":42,"utc":true},"type":"temporal"},"y":{"datum":0.4445,"type":"quantitative"}}}
 ]}
]
},
{
"width":985,"height":126,
"data":{"values":[{}]},
"layer":[
 {"mark":{"type":"rect","color":"#f2e5f2"},
  "encoding":{"y":{"datum":30,"type":"quantitative","scale":{"domain":[11.5,108.5],"nice":false,"zero":false},"axis":{"orient":"right","values":[100,80,60],"format":".4f","labelFontSize":8,"labelColor":"#555555","tickSize":3,"tickColor":"#999999","domainColor":"#999999","labelPadding":2,"grid":false,"title":null}},"y2":{"datum":70}}},
 {"mark":{"type":"rule","color":"#a392a3","strokeDash":[5,4]},"encoding":{"y":{"datum":70,"type":"quantitative"}}},
 {"mark":{"type":"rule","color":"#a392a3","strokeDash":[5,4]},"encoding":{"y":{"datum":30,"type":"quantitative"}}},
 {"mark":{"type":"rule","color":"#9ab889","strokeWidth":1.2},"encoding":{"y":{"datum":87.0838,"type":"quantitative"}}},
 {"mark":{"type":"rule","color":"#5d8a3c","strokeWidth":1.2},"encoding":{"y":{"datum":18.8973,"type":"quantitative"}}},
 {"data":{"name":"c"},"mark":{"type":"line","color":"#b862c8","strokeWidth":1},
  "encoding":{"x":{"field":"t","type":"temporal","scale":{"type":"utc","domain":[{"year":2023,"month":6,"date":20,"hours":7,"minutes":15,"utc":true},{"year":2023,"month":8,"date":10,"hours":13,"minutes":45,"utc":true}]},
   "axis":{"values":[{"year":2023,"month":6,"date":22,"utc":true},{"year":2023,"month":6,"date":25,"utc":true},{"year":2023,"month":6,"date":28,"utc":true},{"year":2023,"month":7,"date":1,"utc":true},{"year":2023,"month":7,"date":4,"utc":true},{"year":2023,"month":7,"date":7,"utc":true},{"year":2023,"month":7,"date":10,"utc":true},{"year":2023,"month":7,"date":13,"utc":true},{"year":2023,"month":7,"date":16,"utc":true},{"year":2023,"month":7,"date":19,"utc":true},{"year":2023,"month":7,"date":22,"utc":true},{"year":2023,"month":7,"date":25,"utc":true},{"year":2023,"month":7,"date":28,"utc":true},{"year":2023,"month":8,"date":1,"utc":true},{"year":2023,"month":8,"date":4,"utc":true},{"year":2023,"month":8,"date":7,"utc":true},{"year":2023,"month":8,"date":10,"utc":true}],
   "labelExpr":"utcdate(datum.value)==1 ? utcFormat(datum.value,'%b') : ''+utcdate(datum.value)","labelFontSize":9,"labelColor":"#555555","labelFont":"Liberation Sans Narrow, Liberation Sans","tickSize":4,"tickColor":"#999999","domainColor":"#999999","labelPadding":2,"labelFlush":false,"grid":false,"title":null}},
   "y":{"field":"r","type":"quantitative"}}},
 {"data":{"name":"rl"},"mark":{"type":"rect","x2Offset":34,"yOffset":-5,"y2Offset":5},
  "encoding":{"x":{"datum":{"year":2023,"month":8,"date":10,"hours":13,"minutes":45,"utc":true},"type":"temporal"},"x2":{"datum":{"year":2023,"month":8,"date":10,"hours":13,"minutes":45,"utc":true}},
  "y":{"field":"p","type":"quantitative"},"y2":{"field":"p"},
  "color":{"condition":{"test":"datum.k=='P'","value":"#a020a0"},"value":"#2b4a1c"}}},
 {"data":{"name":"rl"},"mark":{"type":"text","align":"left","baseline":"middle","dx":4,"fontSize":8,"color":"#ffffff"},
  "encoding":{"x":{"datum":{"year":2023,"month":8,"date":10,"hours":13,"minutes":45,"utc":true},"type":"temporal"},"y":{"field":"p","type":"quantitative"},"text":{"field":"p","type":"quantitative","format":".4f"}}},
 {"mark":{"type":"text","text":"RSI (9)","align":"left","baseline":"middle","fontSize":8,"color":"#666666"},"encoding":{"x":{"datum":{"year":2023,"month":6,"date":20,"hours":11,"utc":true},"type":"temporal"},"y":{"datum":101,"type":"quantitative"}}},
 {"mark":{"type":"text","text":"▾","align":"left","baseline":"middle","fontSize":9,"color":"#aaaaaa"},"encoding":{"x":{"datum":{"year":2023,"month":6,"date":21,"hours":21,"minutes":36,"utc":true},"type":"temporal"},"y":{"datum":101,"type":"quantitative"}}},
 {"mark":{"type":"text","text":"■■■","align":"left","baseline":"middle","fontSize":10,"color":"#dddddd"},"encoding":{"x":{"datum":{"year":2023,"month":6,"date":22,"hours":10,"minutes":6,"utc":true},"type":"temporal"},"y":{"datum":101,"type":"quantitative"}}},
 {"mark":{"type":"text","text":"38.9377","align":"left","baseline":"middle","fontSize":8.5,"color":"#a3269f"},"encoding":{"x":{"datum":{"year":2023,"month":6,"date":24,"hours":9,"minutes":6,"utc":true},"type":"temporal"},"y":{"datum":101,"type":"quantitative"}}}
]
}
]
}
